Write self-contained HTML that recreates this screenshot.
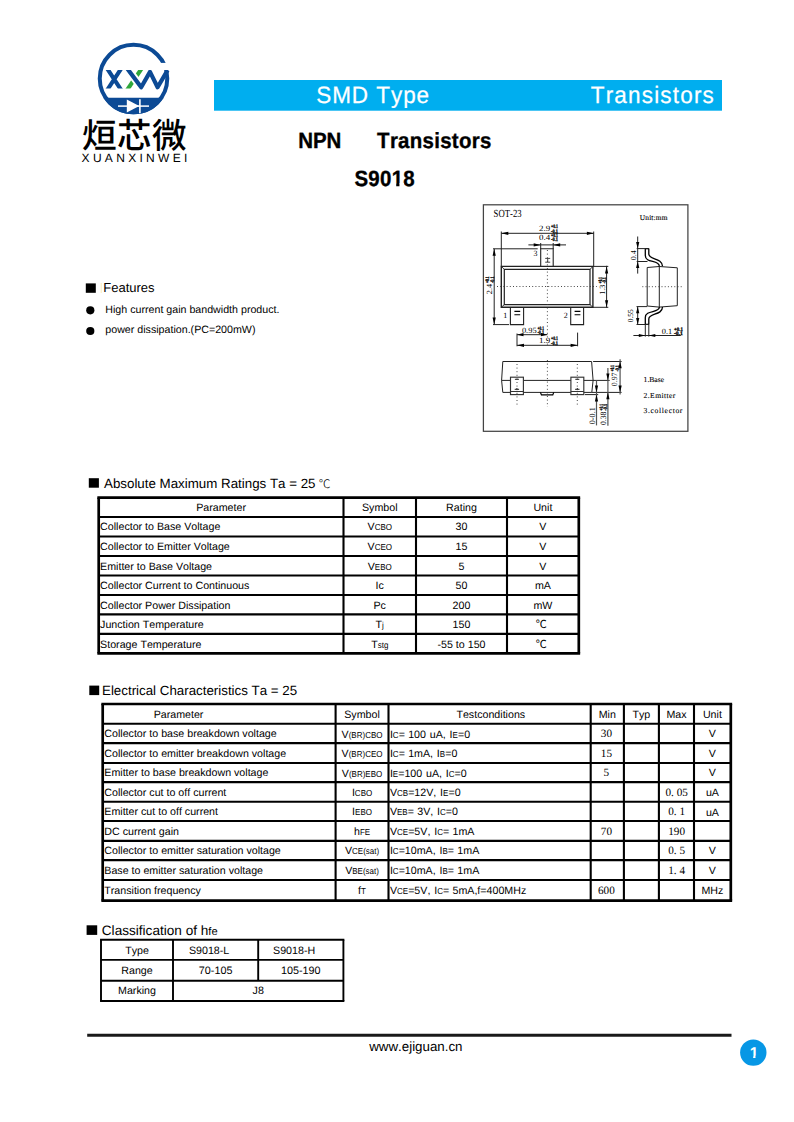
<!DOCTYPE html>
<html lang="en">
<head>
<meta charset="utf-8">
<title>S9018 NPN Transistors</title>
<style>
html,body{margin:0;padding:0;background:#fff;}
body{width:794px;height:1122px;overflow:hidden;font-family:'Liberation Sans', sans-serif;}
svg{display:block;position:absolute;left:0;top:0;font-family:'Liberation Sans', sans-serif;font-kerning:none;text-rendering:geometricPrecision;}
text{white-space:pre;}
</style>
</head>
<body>
<svg width="794" height="1122" viewBox="0 0 794 1122">
<g id="header">
<rect x="214" y="80" width="508" height="30.7" fill="#00aeef"/>
<text transform="translate(316.2 103) scale(0.95 1)" font-size="23.7" fill="#fff" stroke="#fff" stroke-width="0.25" letter-spacing="1.0">SMD Type</text>
<text transform="translate(590.7 103) scale(0.95 1)" font-size="23.7" fill="#fff" stroke="#fff" stroke-width="0.25" letter-spacing="1.25">Transistors</text>
</g>
<g id="logo">
<circle cx="133.5" cy="78.6" r="33.75" fill="none" stroke="#0c4a95" stroke-width="4"/>
<rect x="158" y="62.9" width="14" height="7.2" fill="#fff"/>
<path d="M103.28,97.7 L163.72,97.7 A35.75,35.75 0 0 1 103.28,97.7 Z" fill="#0c4a95"/>
<line x1="118" y1="106.1" x2="149" y2="106.1" stroke="#fff" stroke-width="1.5"/>
<path d="M126.8,99.6 L126.8,112.6 L139.3,106.1 Z" fill="#fff"/>
<line x1="139.9" y1="99.3" x2="139.9" y2="113.2" stroke="#fff" stroke-width="1.6"/>
<clipPath id="lc"><rect x="100" y="70.0" width="70" height="18.6"/></clipPath>
<clipPath id="lw"><rect x="100" y="69.9" width="70" height="20"/></clipPath>
<path clip-path="url(#lc)" d="M105.80,66.42 L122.60,92.18 M122.60,66.42 L105.80,92.18" fill="none" stroke="#0c4a95" stroke-width="4.1"/>
<path clip-path="url(#lc)" d="M143.10,66.42 L125.60,92.18" fill="none" stroke="#2fa73b" stroke-width="4.1"/>
<path clip-path="url(#lc)" d="M124.56,64.97 L141.2,87.2" fill="none" stroke="#fff" stroke-width="8.0"/>
<path clip-path="url(#lw)" d="M124.56,64.97 L141.2,87.2 L150.0,71.9 L157.6,87.2 L167.6,70.2" fill="none" stroke="#0c4a95" stroke-width="4.2" stroke-linejoin="round"/>
<text x="82" y="148.2" font-size="34.6" font-weight="500" font-family="'Liberation Sans', 'Noto Sans CJK SC', sans-serif" letter-spacing="0.4">烜芯微</text>
<text x="81.6" y="161.5" font-size="12" letter-spacing="3.3">XUANXINWEI</text>
</g>
<text transform="translate(298.3 148) scale(0.93 1)" font-size="22" font-weight="bold" letter-spacing="-0.1" stroke="#000" stroke-width="0.35">NPN</text>
<text transform="translate(377.1 148) scale(0.93 1)" font-size="22" font-weight="bold" letter-spacing="0.3" stroke="#000" stroke-width="0.35">Transistors</text>
<text transform="translate(354.4 185.8) scale(0.93 1)" font-size="22" font-weight="bold" letter-spacing="0.3" stroke="#000" stroke-width="0.35">S9018</text>
<rect x="391.93" y="183" width="4.28659" height="4.5" fill="#fff"/>
<rect x="399.424" y="183" width="4.42685" height="4.5" fill="#fff"/>
<rect x="85.8" y="283.4" width="10" height="9.4" fill="#000"/>
<line x1="101.2" y1="283" x2="101.2" y2="293" stroke="#fbe7a6" stroke-width="0.8"/>
<text x="103.3" y="292.2" font-size="13">Features</text>
<circle cx="90.3" cy="310.3" r="4.1"/>
<circle cx="90.3" cy="331" r="4.1"/>
<text x="105.3" y="313.4" font-size="10.667">High current gain bandwidth product.</text>
<text x="105.3" y="333.3" font-size="10.667">power dissipation.(PC=200mW)</text>
<rect x="88.8" y="478.2" width="10.1" height="9.5" fill="#000"/>
<text x="104" y="487.6" font-size="13.333">Absolute Maximum Ratings Ta = 25</text>
<text x="318.8" y="487.6" font-size="11.8" font-weight="300" font-family="'Liberation Sans', 'Noto Sans CJK SC', sans-serif">℃</text>
<rect x="89.3" y="685.6" width="9.9" height="9.5" fill="#000"/>
<text x="102" y="694.9" font-size="13.333">Electrical Characteristics Ta = 25</text>
<rect x="86.6" y="925.3" width="10.6" height="9.6" fill="#000"/>
<text x="101.8" y="934.7" font-size="13.6">Classification of h<tspan font-size="11.2">fe</tspan></text>
<g id="t1">
<line x1="97.35" y1="497.6" x2="580.15" y2="497.6" stroke="#000" stroke-width="2.7"/>
<line x1="98.7" y1="517.07" x2="578.8" y2="517.07" stroke="#000" stroke-width="2.1"/>
<line x1="98.7" y1="536.54" x2="578.8" y2="536.54" stroke="#000" stroke-width="2.1"/>
<line x1="98.7" y1="556.01" x2="578.8" y2="556.01" stroke="#000" stroke-width="2.1"/>
<line x1="98.7" y1="575.48" x2="578.8" y2="575.48" stroke="#000" stroke-width="2.1"/>
<line x1="98.7" y1="594.95" x2="578.8" y2="594.95" stroke="#000" stroke-width="2.1"/>
<line x1="98.7" y1="614.42" x2="578.8" y2="614.42" stroke="#000" stroke-width="2.1"/>
<line x1="98.7" y1="633.89" x2="578.8" y2="633.89" stroke="#000" stroke-width="2.1"/>
<line x1="97.35" y1="653.36" x2="580.15" y2="653.36" stroke="#000" stroke-width="2.7"/>
<line x1="98.7" y1="497.6" x2="98.7" y2="653.36" stroke="#000" stroke-width="2.7"/>
<line x1="343.5" y1="497.6" x2="343.5" y2="653.36" stroke="#000" stroke-width="2.1"/>
<line x1="416" y1="497.6" x2="416" y2="653.36" stroke="#000" stroke-width="2.1"/>
<line x1="507" y1="497.6" x2="507" y2="653.36" stroke="#000" stroke-width="2.1"/>
<line x1="578.8" y1="497.6" x2="578.8" y2="653.36" stroke="#000" stroke-width="2.7"/>
<text x="221.1" y="511" font-size="10.667" text-anchor="middle">Parameter</text>
<text x="379.75" y="511" font-size="10.667" text-anchor="middle">Symbol</text>
<text x="461.5" y="511" font-size="10.667" text-anchor="middle">Rating</text>
<text x="542.9" y="511" font-size="10.667" text-anchor="middle">Unit</text>
<text x="100.1" y="530" font-size="10.667">Collector to Base Voltage</text>
<g>
<text x="367.52" y="530" font-size="10.667">V</text>
<text transform="translate(374.64 530) scale(0.92 1)" font-size="8.7">CBO</text>
</g>
<text x="461.5" y="530" font-size="10.667" text-anchor="middle">30</text>
<text x="542.9" y="530" font-size="10.667" text-anchor="middle">V</text>
<text x="100.1" y="550" font-size="10.667">Collector to Emitter Voltage</text>
<g>
<text x="367.52" y="550" font-size="10.667">V</text>
<text transform="translate(374.64 550) scale(0.92 1)" font-size="8.7">CEO</text>
</g>
<text x="461.5" y="550" font-size="10.667" text-anchor="middle">15</text>
<text x="542.9" y="550" font-size="10.667" text-anchor="middle">V</text>
<text x="100.1" y="570" font-size="10.667">Emitter to Base Voltage</text>
<g>
<text x="367.74" y="570" font-size="10.667">V</text>
<text transform="translate(374.86 570) scale(0.92 1)" font-size="8.7">EBO</text>
</g>
<text x="461.5" y="570" font-size="10.667" text-anchor="middle">5</text>
<text x="542.9" y="570" font-size="10.667" text-anchor="middle">V</text>
<text x="100.1" y="589" font-size="10.667">Collector Current to Continuous</text>
<g>
<text x="375.60" y="589" font-size="10.667">Ic</text>
</g>
<text x="461.5" y="589" font-size="10.667" text-anchor="middle">50</text>
<text x="542.9" y="589" font-size="10.667" text-anchor="middle">mA</text>
<text x="100.1" y="609" font-size="10.667">Collector Power Dissipation</text>
<g>
<text x="373.53" y="609" font-size="10.667">Pc</text>
</g>
<text x="461.5" y="609" font-size="10.667" text-anchor="middle">200</text>
<text x="542.9" y="609" font-size="10.667" text-anchor="middle">mW</text>
<text x="100.1" y="628" font-size="10.667">Junction Temperature</text>
<g>
<text x="375.60" y="628" font-size="10.667">T</text>
<text transform="translate(382.12 628) scale(0.92 1)" font-size="8.7">j</text>
</g>
<text x="461.5" y="628" font-size="10.667" text-anchor="middle">150</text>
<text x="541.3" y="628" font-size="11" text-anchor="middle" font-family="'Liberation Sans', 'Noto Sans CJK SC', sans-serif">℃</text>
<text x="100.1" y="648" font-size="10.667">Storage Temperature</text>
<g>
<text x="371.15" y="648" font-size="10.667">T</text>
<text transform="translate(377.67 648) scale(0.92 1)" font-size="8.7">stg</text>
</g>
<text x="461.5" y="648" font-size="10.667" text-anchor="middle">-55 to 150</text>
<text x="541.3" y="648" font-size="11" text-anchor="middle" font-family="'Liberation Sans', 'Noto Sans CJK SC', sans-serif">℃</text>
</g>
<g id="t2">
<line x1="101.35" y1="704" x2="732.15" y2="704" stroke="#000" stroke-width="2.7"/>
<line x1="102.7" y1="723.7" x2="730.8" y2="723.7" stroke="#000" stroke-width="2.1"/>
<line x1="102.7" y1="743.1" x2="730.8" y2="743.1" stroke="#000" stroke-width="2.1"/>
<line x1="102.7" y1="763" x2="730.8" y2="763" stroke="#000" stroke-width="2.1"/>
<line x1="102.7" y1="782.1" x2="730.8" y2="782.1" stroke="#000" stroke-width="2.1"/>
<line x1="102.7" y1="801.7" x2="730.8" y2="801.7" stroke="#000" stroke-width="2.1"/>
<line x1="102.7" y1="821" x2="730.8" y2="821" stroke="#000" stroke-width="2.1"/>
<line x1="102.7" y1="840.9" x2="730.8" y2="840.9" stroke="#000" stroke-width="2.1"/>
<line x1="102.7" y1="860.1" x2="730.8" y2="860.1" stroke="#000" stroke-width="2.1"/>
<line x1="102.7" y1="880" x2="730.8" y2="880" stroke="#000" stroke-width="2.1"/>
<line x1="101.35" y1="900.6" x2="732.15" y2="900.6" stroke="#000" stroke-width="2.7"/>
<line x1="102.7" y1="704" x2="102.7" y2="900.6" stroke="#000" stroke-width="2.7"/>
<line x1="335.6" y1="704" x2="335.6" y2="900.6" stroke="#000" stroke-width="2.1"/>
<line x1="388.5" y1="704" x2="388.5" y2="900.6" stroke="#000" stroke-width="2.1"/>
<line x1="590.7" y1="704" x2="590.7" y2="900.6" stroke="#000" stroke-width="2.1"/>
<line x1="623.9" y1="704" x2="623.9" y2="900.6" stroke="#000" stroke-width="2.1"/>
<line x1="658.9" y1="704" x2="658.9" y2="900.6" stroke="#000" stroke-width="2.1"/>
<line x1="694" y1="704" x2="694" y2="900.6" stroke="#000" stroke-width="2.1"/>
<line x1="730.8" y1="704" x2="730.8" y2="900.6" stroke="#000" stroke-width="2.7"/>
<text x="178.5" y="718" font-size="10.667" text-anchor="middle">Parameter</text>
<text x="362.05" y="718" font-size="10.667" text-anchor="middle">Symbol</text>
<text x="490.8" y="718" font-size="10.667" text-anchor="middle">Testconditions</text>
<text x="607.3" y="718" font-size="10.667" text-anchor="middle">Min</text>
<text x="641.4" y="718" font-size="10.667" text-anchor="middle">Typ</text>
<text x="676.45" y="718" font-size="10.667" text-anchor="middle">Max</text>
<text x="712.4" y="718" font-size="10.667" text-anchor="middle">Unit</text>
<text x="104.3" y="737" font-size="10.667">Collector to base breakdown voltage</text>
<g>
<text x="341.60" y="738" font-size="10.667">V</text>
<text transform="translate(348.71 738) scale(0.92 1)" font-size="8.7">(BR)CBO</text>
</g>
<g>
<text x="389.90" y="738" font-size="10.667" word-spacing="0.85">I</text>
<text transform="translate(392.86 738) scale(0.92 1)" font-size="8.7">C</text>
<text x="398.64" y="738" font-size="10.667" word-spacing="0.85">= </text>
<text x="408.19" y="738" font-size="10.667" word-spacing="0.85">100 uA, I</text>
<text transform="translate(452.59 738) scale(0.92 1)" font-size="8.7">E</text>
<text x="457.92" y="738" font-size="10.667" word-spacing="0.85">=0</text>
</g>
<text x="606.4" y="737" font-size="11.2" text-anchor="middle" font-family="'Liberation Serif', 'Noto Serif CJK SC', serif">30</text>
<text x="712.4" y="737" font-size="10.667" text-anchor="middle">V</text>
<text x="104.3" y="757" font-size="10.667">Collector to emitter breakdown voltage</text>
<g>
<text x="341.60" y="757" font-size="10.667">V</text>
<text transform="translate(348.71 757) scale(0.92 1)" font-size="8.7">(BR)CEO</text>
</g>
<g>
<text x="389.90" y="757" font-size="10.667" word-spacing="0.85">I</text>
<text transform="translate(392.86 757) scale(0.92 1)" font-size="8.7">C</text>
<text x="398.64" y="757" font-size="10.667" word-spacing="0.85">= </text>
<text x="408.19" y="757" font-size="10.667" word-spacing="0.85">1mA, I</text>
<text transform="translate(439.86 757) scale(0.92 1)" font-size="8.7">B</text>
<text x="445.20" y="757" font-size="10.667" word-spacing="0.85">=0</text>
</g>
<text x="606.4" y="757" font-size="11.2" text-anchor="middle" font-family="'Liberation Serif', 'Noto Serif CJK SC', serif">15</text>
<text x="712.4" y="757" font-size="10.667" text-anchor="middle">V</text>
<text x="104.3" y="776" font-size="10.667">Emitter to base breakdown voltage</text>
<g>
<text x="341.82" y="777" font-size="10.667">V</text>
<text transform="translate(348.93 777) scale(0.92 1)" font-size="8.7">(BR)EBO</text>
</g>
<g>
<text x="389.90" y="777" font-size="10.667" word-spacing="0.85">I</text>
<text transform="translate(392.86 777) scale(0.92 1)" font-size="8.7">E</text>
<text x="398.20" y="777" font-size="10.667" word-spacing="0.85">=100 uA, I</text>
<text transform="translate(448.83 777) scale(0.92 1)" font-size="8.7">C</text>
<text x="454.61" y="777" font-size="10.667" word-spacing="0.85">=0</text>
</g>
<text x="606.4" y="776" font-size="11.2" text-anchor="middle" font-family="'Liberation Serif', 'Noto Serif CJK SC', serif">5</text>
<text x="712.4" y="776" font-size="10.667" text-anchor="middle">V</text>
<text x="104.3" y="796" font-size="10.667">Collector cut to off current</text>
<g>
<text x="351.90" y="796" font-size="10.667">I</text>
<text transform="translate(354.86 796) scale(0.92 1)" font-size="8.7">CBO</text>
</g>
<g>
<text x="389.90" y="796" font-size="10.667" word-spacing="0.85">V</text>
<text transform="translate(397.01 796) scale(0.92 1)" font-size="8.7">CB</text>
<text x="408.13" y="796" font-size="10.667" word-spacing="0.85">=12V, I</text>
<text transform="translate(443.08 796) scale(0.92 1)" font-size="8.7">E</text>
<text x="448.42" y="796" font-size="10.667" word-spacing="0.85">=0</text>
</g>
<text x="676.65" y="796" font-size="11.2" text-anchor="middle" font-family="'Liberation Serif', 'Noto Serif CJK SC', serif">0. 05</text>
<text x="712.4" y="796" font-size="10.667" text-anchor="middle">uA</text>
<text x="104.3" y="815" font-size="10.667">Emitter cut to off current</text>
<g>
<text x="352.12" y="815" font-size="10.667">I</text>
<text transform="translate(355.08 815) scale(0.92 1)" font-size="8.7">EBO</text>
</g>
<g>
<text x="389.90" y="815" font-size="10.667" word-spacing="0.85">V</text>
<text transform="translate(397.01 815) scale(0.92 1)" font-size="8.7">EB</text>
<text x="407.69" y="815" font-size="10.667" word-spacing="0.85">= </text>
<text x="417.24" y="815" font-size="10.667" word-spacing="0.85">3V, I</text>
<text transform="translate(440.02 815) scale(0.92 1)" font-size="8.7">C</text>
<text x="445.80" y="815" font-size="10.667" word-spacing="0.85">=0</text>
</g>
<text x="676.65" y="815" font-size="11.2" text-anchor="middle" font-family="'Liberation Serif', 'Noto Serif CJK SC', serif">0. 1</text>
<text x="712.4" y="816" font-size="10.667" text-anchor="middle">uA</text>
<text x="104.3" y="835" font-size="10.667">DC current gain</text>
<g>
<text x="353.97" y="835" font-size="10.667">h</text>
<text transform="translate(359.90 835) scale(0.92 1)" font-size="8.7">FE</text>
</g>
<g>
<text x="389.90" y="835" font-size="10.667" word-spacing="0.85">V</text>
<text transform="translate(397.01 835) scale(0.92 1)" font-size="8.7">CE</text>
<text x="408.13" y="835" font-size="10.667" word-spacing="0.85">=5V, I</text>
<text transform="translate(437.15 835) scale(0.92 1)" font-size="8.7">C</text>
<text x="442.93" y="835" font-size="10.667" word-spacing="0.85">= </text>
<text x="452.47" y="835" font-size="10.667" word-spacing="0.85">1mA</text>
</g>
<text x="606.4" y="835" font-size="11.2" text-anchor="middle" font-family="'Liberation Serif', 'Noto Serif CJK SC', serif">70</text>
<text x="676.65" y="835" font-size="11.2" text-anchor="middle" font-family="'Liberation Serif', 'Noto Serif CJK SC', serif">190</text>
<text x="104.3" y="854" font-size="10.667">Collector to emitter saturation voltage</text>
<g>
<text x="344.93" y="854" font-size="10.667">V</text>
<text transform="translate(352.04 854) scale(0.92 1)" font-size="8.7">CE(sat)</text>
</g>
<g>
<text x="389.90" y="854" font-size="10.667" word-spacing="0.85">I</text>
<text transform="translate(392.86 854) scale(0.92 1)" font-size="8.7">C</text>
<text x="398.64" y="854" font-size="10.667" word-spacing="0.85">=10mA, I</text>
<text transform="translate(442.48 854) scale(0.92 1)" font-size="8.7">B</text>
<text x="447.82" y="854" font-size="10.667" word-spacing="0.85">= </text>
<text x="457.36" y="854" font-size="10.667" word-spacing="0.85">1mA</text>
</g>
<text x="676.65" y="854" font-size="11.2" text-anchor="middle" font-family="'Liberation Serif', 'Noto Serif CJK SC', serif">0. 5</text>
<text x="712.4" y="854" font-size="10.667" text-anchor="middle">V</text>
<text x="104.3" y="874" font-size="10.667">Base to emitter saturation voltage</text>
<g>
<text x="345.15" y="874" font-size="10.667">V</text>
<text transform="translate(352.26 874) scale(0.92 1)" font-size="8.7">BE(sat)</text>
</g>
<g>
<text x="389.90" y="874" font-size="10.667" word-spacing="0.85">I</text>
<text transform="translate(392.86 874) scale(0.92 1)" font-size="8.7">C</text>
<text x="398.64" y="874" font-size="10.667" word-spacing="0.85">=10mA, I</text>
<text transform="translate(442.48 874) scale(0.92 1)" font-size="8.7">B</text>
<text x="447.82" y="874" font-size="10.667" word-spacing="0.85">= </text>
<text x="457.36" y="874" font-size="10.667" word-spacing="0.85">1mA</text>
</g>
<text x="676.65" y="874" font-size="11.2" text-anchor="middle" font-family="'Liberation Serif', 'Noto Serif CJK SC', serif">1. 4</text>
<text x="712.4" y="874" font-size="10.667" text-anchor="middle">V</text>
<text x="104.3" y="894" font-size="10.667">Transition frequency</text>
<g>
<text x="358.12" y="894" font-size="10.667">f</text>
<text transform="translate(361.09 894) scale(0.92 1)" font-size="8.7">T</text>
</g>
<g>
<text x="389.90" y="894" font-size="10.667" word-spacing="0.85">V</text>
<text transform="translate(397.01 894) scale(0.92 1)" font-size="8.7">CE</text>
<text x="408.13" y="894" font-size="10.667" word-spacing="0.85">=5V, I</text>
<text transform="translate(437.15 894) scale(0.92 1)" font-size="8.7">C</text>
<text x="442.93" y="894" font-size="10.667" word-spacing="0.85">= </text>
<text x="452.47" y="894" font-size="10.667" word-spacing="0.85">5mA,f=400MHz</text>
</g>
<text x="606.4" y="894" font-size="11.2" text-anchor="middle" font-family="'Liberation Serif', 'Noto Serif CJK SC', serif">600</text>
<text x="712.4" y="894" font-size="10.667" text-anchor="middle">MHz</text>
</g>
<g id="t3">
<line x1="100.05" y1="939.8" x2="344.35" y2="939.8" stroke="#000" stroke-width="1.9"/>
<line x1="101" y1="959.9" x2="343.4" y2="959.9" stroke="#000" stroke-width="1.9"/>
<line x1="101" y1="980.8" x2="343.4" y2="980.8" stroke="#000" stroke-width="1.9"/>
<line x1="100.05" y1="1001" x2="344.35" y2="1001" stroke="#000" stroke-width="1.9"/>
<line x1="101" y1="939.8" x2="101" y2="1001" stroke="#000" stroke-width="1.9"/>
<line x1="173" y1="939.8" x2="173" y2="1001" stroke="#000" stroke-width="1.9"/>
<line x1="258.2" y1="939.8" x2="258.2" y2="980.8" stroke="#000" stroke-width="1.9"/>
<line x1="343.4" y1="939.8" x2="343.4" y2="1001" stroke="#000" stroke-width="1.9"/>
<text x="137" y="954" font-size="10.667" text-anchor="middle">Type</text>
<text x="209.1" y="954" font-size="10.667" text-anchor="middle">S9018-L</text>
<text x="294.1" y="954" font-size="10.667" text-anchor="middle">S9018-H</text>
<text x="137" y="973.6" font-size="10.667" text-anchor="middle">Range</text>
<text x="215.6" y="973.6" font-size="10.8" text-anchor="middle">70-105</text>
<text x="300.8" y="973.6" font-size="10.8" text-anchor="middle">105-190</text>
<text x="137" y="994.3" font-size="10.667" text-anchor="middle">Marking</text>
<text x="258.2" y="994.3" font-size="10.667" text-anchor="middle">J8</text>
</g>
<line x1="87.2" y1="1035.3" x2="731.5" y2="1035.3" stroke="#1a1a1a" stroke-width="3"/>
<text x="369.2" y="1050.8" font-size="13.333">www.ejiguan.cn</text>
<circle cx="753.3" cy="1052.6" r="13.2" fill="#0797e5"/>
<text x="749.656" y="1057.9" font-size="15.5" font-weight="bold" fill="#fff">1</text>
<rect x="749.432" y="1055.72" width="3.74136" height="2.98179" fill="#0797e5"/>
<rect x="755.5" y="1055.72" width="4.24458" height="2.98179" fill="#0797e5"/>
<g id="diagram" fill="none" stroke="#222" stroke-width="1">
<rect x="483.4" y="204.8" width="204.5" height="226.5" stroke="#444" stroke-width="1.25"/>
<path d="M501.3,266.4 H592.9 V307.3 H501.3 Z" stroke-width="1.4"/>
<path d="M504.3,269.4 H590.0 V304.6 H504.3 Z" stroke-width="1.2"/>
<path d="M501.3,266.4 L504.3,269.4 M592.9,266.4 L590.0,269.4 M592.9,307.3 L590.0,304.6 M501.3,307.3 L504.3,304.6" stroke-width="0.9"/>
<path d="M540.7,266.4 V248.8 H553.2 V266.4" stroke-width="1.1"/>
<path d="M510.4,307.3 V324.6 H523.6 V307.3" stroke-width="1.1"/>
<path d="M570.7,307.3 V324.6 H583.6 V307.3" stroke-width="1.1"/>
<path d="M497,286.5 H597" stroke-width="0.9" stroke-dasharray="1 2.2 1 2.2" stroke="#333"/>
<path d="M547.4,250 V346" stroke-width="0.9" stroke-dasharray="1 2.6" stroke="#333"/>
<path d="M514.4,311.4 H520.2 M514.4,314.7 H520.2" stroke-width="1.1" stroke="#000"/>
<path d="M574.6,311.4 H580.4 M574.6,314.7 H580.4" stroke-width="1.1" stroke="#000"/>
<path d="M545.2,258.4 H550.2 M545.2,262.2 H550.2 M547.7,258.4 V262.2" stroke-width="0.9" stroke="#333"/>
<path d="M501.3,231.5 V266.4 M593.7,231.5 V266.4" stroke-width="1" stroke="#222"/>
<path d="M501.3,233.3 H593.7" stroke-width="1"/>
<polygon points="501.3,233.3 508.3,231.7 508.3,234.9" fill="#000" stroke="none"/>
<polygon points="593.9,233.3 586.9,231.7 586.9,234.9" fill="#000" stroke="none"/>
<path d="M528.4,244.9 H566" stroke-width="1"/>
<polygon points="540.7,244.9 533.7,243.3 533.7,246.5" fill="#000" stroke="none"/>
<polygon points="553.2,244.9 560.2,243.3 560.2,246.5" fill="#000" stroke="none"/>
<path d="M540.7,243 V249 M553.2,243 V249" stroke-width="1"/>
<path d="M494.2,248.8 V324.6" stroke-width="1"/>
<polygon points="494.2,248.8 492.6,255.8 495.8,255.8" fill="#000" stroke="none"/>
<polygon points="494.2,324.6 492.6,317.6 495.8,317.6" fill="#000" stroke="none"/>
<path d="M493,248.8 H537.7 M493,324.6 H509" stroke-width="1"/>
<path d="M606.6,265.8 V307.8" stroke-width="1"/>
<polygon points="606.6,266.4 605,273.4 608.2,273.4" fill="#000" stroke="none"/>
<polygon points="606.6,307.3 605,300.3 608.2,300.3" fill="#000" stroke="none"/>
<path d="M592.9,266.4 H608.3 M592.9,307.3 H608.3" stroke-width="1"/>
<path d="M517,334.7 H547.4" stroke-width="1"/>
<polygon points="517,334.7 523.5,333.1 523.5,336.3" fill="#000" stroke="none"/>
<polygon points="547.4,334.7 540.9,333.1 540.9,336.3" fill="#000" stroke="none"/>
<path d="M517,333.5 V346.3 M577.6,332.6 V346.3" stroke-width="1"/>
<path d="M517,345.3 H577.6" stroke-width="1"/>
<polygon points="517,345.3 524,343.7 524,346.9" fill="#000" stroke="none"/>
<polygon points="577.6,345.3 570.6,343.7 570.6,346.9" fill="#000" stroke="none"/>
<path d="M502.8,361.5 H591.6 L593.1,380.4 L591.8,392.4 H502.8 L501.6,380.4 Z" stroke-width="1"/>
<path d="M501.6,380.4 H609.7" stroke-width="1"/>
<rect x="510.5" y="377.2" width="12.9" height="17.4" fill="#fff" stroke="#333" stroke-width="1.15"/>
<path d="M510.5,391.5 h12.9" stroke-width="1" stroke="#333"/>
<path d="M514.9,379.3 h4 M514.7,389.3 h4.4 M516.9,388 v1.3" stroke-width="1"/>
<rect x="570.9" y="377.2" width="12.9" height="17.4" fill="#fff" stroke="#333" stroke-width="1.15"/>
<path d="M570.9,391.5 h12.9" stroke-width="1" stroke="#333"/>
<path d="M575.3,379.3 h4 M575.1,389.3 h4.4 M577.3,388 v1.3" stroke-width="1"/>
<path d="M540.4,392.4 L541.4,394.8 H552.8 L553.8,392.4" stroke-width="1.15" stroke="#000"/>
<path d="M517,364 V405 M577.3,364 V405" stroke-width="0.9" stroke-dasharray="1 2.6" stroke="#333"/>
<path d="M547.4,360 V407" stroke-width="0.9" stroke-dasharray="1 2.6" stroke="#333"/>
<path d="M593.1,361.5 H621.6 M591.8,392.4 H621.6" stroke-width="1"/>
<path d="M620.1,359.3 V394.5" stroke-width="1.2" stroke="#555"/>
<polygon points="620.1,361.3 618.5,368.3 621.7,368.3" fill="#000" stroke="none"/>
<polygon points="620.1,392.6 618.5,385.6 621.7,385.6" fill="#000" stroke="none"/>
<path d="M607.9,368.1 V425.8" stroke-width="1.2" stroke="#555"/>
<polygon points="607.9,380.6 606.3,373.6 609.5,373.6" fill="#000" stroke="none"/>
<polygon points="607.9,392.2 606.3,399.2 609.5,399.2" fill="#000" stroke="none"/>
<path d="M585,394.6 H598.2" stroke-width="1"/>
<path d="M596.5,380.4 V425.4" stroke-width="1.2" stroke="#555"/>
<polygon points="596.5,392.4 594.9,385.4 598.1,385.4" fill="#000" stroke="none"/>
<polygon points="596.5,394.4 594.9,401.4 598.1,401.4" fill="#000" stroke="none"/>
<path d="M647.2,267.5 L659.3,266.5 L677.3,267.8 V305.7 L659.3,307.1 L647.2,306 Z" stroke-width="1"/>
<path d="M659.3,266.5 V307.1" stroke-width="1"/>
<path d="M645.3,248.6 H648.8 M645.3,248.6 V255.5 C645.3,263.5 659.2,259.5 659.4,266.5 M648.8,248.6 V254 C648.8,260 662.3,257.5 662.5,266.3" stroke-width="1.3" stroke="#000"/>
<path d="M645.3,324.4 H648.8 M645.3,324.4 V317.5 C645.3,309.5 659.2,313.5 659.4,307.1 M648.8,324.4 V319 C648.8,313 662.3,315.5 662.5,307" stroke-width="1.3" stroke="#000"/>
<path d="M642.3,286.7 H682" stroke-width="0.9" stroke-dasharray="1 2.2 1 2.2" stroke="#333"/>
<path d="M637.7,236.5 V273.6" stroke-width="1"/>
<polygon points="637.7,248.6 636.1,242.1 639.3,242.1" fill="#000" stroke="none"/>
<polygon points="637.7,261.5 636.1,268 639.3,268" fill="#000" stroke="none"/>
<path d="M636.7,248.6 H648.8 M636.7,261.5 H647.5" stroke-width="1"/>
<path d="M637.7,306.8 V324.6" stroke-width="1"/>
<polygon points="637.7,306.8 636.1,313.3 639.3,313.3" fill="#000" stroke="none"/>
<polygon points="637.7,324.6 636.1,318.1 639.3,318.1" fill="#000" stroke="none"/>
<path d="M636.5,306.6 H647.2 M636.5,324.5 H648" stroke-width="1"/>
<path d="M645.3,324.4 V336.6 M648.8,324.4 V336.6" stroke-width="1"/>
<path d="M633.4,335.5 H680.8" stroke-width="1"/>
<polygon points="645.3,335.5 638.8,333.9 638.8,337.1" fill="#000" stroke="none"/>
<polygon points="648.8,335.5 655.3,333.9 655.3,337.1" fill="#000" stroke="none"/>
</g>
<g id="diagram-text">
<text x="493.6" y="217.2" font-size="10.8" font-family="'Liberation Serif', 'Noto Serif CJK SC', serif" fill="#000" stroke="none" textLength="28" lengthAdjust="spacingAndGlyphs">SOT-23</text>
<text x="639.8" y="220.3" font-size="7.4" font-family="'Liberation Serif', 'Noto Serif CJK SC', serif" textLength="27.6" lengthAdjust="spacing" stroke="#000" stroke-width="0.1">Unit:mm</text>
<text x="539" y="231.3" font-size="8" font-family="'Liberation Serif', 'Noto Serif CJK SC', serif" fill="#000" stroke="none" textLength="11.1" lengthAdjust="spacingAndGlyphs">2.9</text>
<text x="551" y="228.3" font-size="5.4" font-family="'Liberation Serif', 'Noto Serif CJK SC', serif" fill="#000" stroke="#000" stroke-width="0.3" font-weight="bold" textLength="7" lengthAdjust="spacingAndGlyphs">+0.1</text>
<text x="551" y="232.5" font-size="5.4" font-family="'Liberation Serif', 'Noto Serif CJK SC', serif" fill="#000" stroke="#000" stroke-width="0.3" font-weight="bold" textLength="7" lengthAdjust="spacingAndGlyphs">-0.1</text>
<text x="539" y="240.2" font-size="8" font-family="'Liberation Serif', 'Noto Serif CJK SC', serif" fill="#000" stroke="none" textLength="11.1" lengthAdjust="spacingAndGlyphs">0.4</text>
<text x="551" y="237.2" font-size="5.4" font-family="'Liberation Serif', 'Noto Serif CJK SC', serif" fill="#000" stroke="#000" stroke-width="0.3" font-weight="bold" textLength="7" lengthAdjust="spacingAndGlyphs">+0.1</text>
<text x="551" y="241.4" font-size="5.4" font-family="'Liberation Serif', 'Noto Serif CJK SC', serif" fill="#000" stroke="#000" stroke-width="0.3" font-weight="bold" textLength="7" lengthAdjust="spacingAndGlyphs">-0.1</text>
<text x="492.4" y="294.2" font-size="8" font-family="'Liberation Serif', 'Noto Serif CJK SC', serif" fill="#000" stroke="none" textLength="10.3" lengthAdjust="spacingAndGlyphs" transform="rotate(-90 492.4 294.2)">2.4</text>
<text x="503.6" y="291.2" font-size="5.4" font-family="'Liberation Serif', 'Noto Serif CJK SC', serif" fill="#000" stroke="#000" stroke-width="0.3" font-weight="bold" textLength="6.5" lengthAdjust="spacingAndGlyphs" transform="rotate(-90 492.4 294.2)">+0.1</text>
<text x="503.6" y="295.4" font-size="5.4" font-family="'Liberation Serif', 'Noto Serif CJK SC', serif" fill="#000" stroke="#000" stroke-width="0.3" font-weight="bold" textLength="6.5" lengthAdjust="spacingAndGlyphs" transform="rotate(-90 492.4 294.2)">-0.1</text>
<text x="604.6" y="294.8" font-size="8" font-family="'Liberation Serif', 'Noto Serif CJK SC', serif" fill="#000" stroke="none" textLength="10.3" lengthAdjust="spacingAndGlyphs" transform="rotate(-90 604.6 294.8)">1.3</text>
<text x="615.8" y="291.8" font-size="5.4" font-family="'Liberation Serif', 'Noto Serif CJK SC', serif" fill="#000" stroke="#000" stroke-width="0.3" font-weight="bold" textLength="6.5" lengthAdjust="spacingAndGlyphs" transform="rotate(-90 604.6 294.8)">+0.1</text>
<text x="615.8" y="296" font-size="5.4" font-family="'Liberation Serif', 'Noto Serif CJK SC', serif" fill="#000" stroke="#000" stroke-width="0.3" font-weight="bold" textLength="6.5" lengthAdjust="spacingAndGlyphs" transform="rotate(-90 604.6 294.8)">-0.1</text>
<text x="533.5" y="255.8" font-size="8" font-family="'Liberation Serif', 'Noto Serif CJK SC', serif" fill="#000" stroke="none">3</text>
<text x="503.3" y="317.9" font-size="8" font-family="'Liberation Serif', 'Noto Serif CJK SC', serif" fill="#000" stroke="none">1</text>
<text x="563.8" y="317.9" font-size="8" font-family="'Liberation Serif', 'Noto Serif CJK SC', serif" fill="#000" stroke="none">2</text>
<text x="521.9" y="333.1" font-size="8" font-family="'Liberation Serif', 'Noto Serif CJK SC', serif" fill="#000" stroke="none" textLength="14.7" lengthAdjust="spacingAndGlyphs">0.95</text>
<text x="537.5" y="330.1" font-size="5.4" font-family="'Liberation Serif', 'Noto Serif CJK SC', serif" fill="#000" stroke="#000" stroke-width="0.3" font-weight="bold" textLength="6.5" lengthAdjust="spacingAndGlyphs">+0.1</text>
<text x="537.5" y="334.3" font-size="5.4" font-family="'Liberation Serif', 'Noto Serif CJK SC', serif" fill="#000" stroke="#000" stroke-width="0.3" font-weight="bold" textLength="6.5" lengthAdjust="spacingAndGlyphs">-0.1</text>
<text x="539" y="343.3" font-size="8" font-family="'Liberation Serif', 'Noto Serif CJK SC', serif" fill="#000" stroke="none" textLength="11.1" lengthAdjust="spacingAndGlyphs">1.9</text>
<text x="551" y="340.3" font-size="5.4" font-family="'Liberation Serif', 'Noto Serif CJK SC', serif" fill="#000" stroke="#000" stroke-width="0.3" font-weight="bold" textLength="7" lengthAdjust="spacingAndGlyphs">+0.1</text>
<text x="551" y="344.5" font-size="5.4" font-family="'Liberation Serif', 'Noto Serif CJK SC', serif" fill="#000" stroke="#000" stroke-width="0.3" font-weight="bold" textLength="7" lengthAdjust="spacingAndGlyphs">-0.1</text>
<text x="636.2" y="260.2" font-size="7.6" font-family="'Liberation Serif', 'Noto Serif CJK SC', serif" fill="#000" stroke="none" textLength="10" lengthAdjust="spacingAndGlyphs" transform="rotate(-90 636.2 260.2)">0.4</text>
<text x="633.4" y="322.2" font-size="7.6" font-family="'Liberation Serif', 'Noto Serif CJK SC', serif" fill="#000" stroke="none" textLength="13" lengthAdjust="spacingAndGlyphs" transform="rotate(-90 633.4 322.2)">0.55</text>
<text x="661.8" y="333.6" font-size="8" font-family="'Liberation Serif', 'Noto Serif CJK SC', serif" fill="#000" stroke="none" textLength="10.4" lengthAdjust="spacingAndGlyphs">0.1</text>
<text x="673.9" y="330.6" font-size="5.4" font-family="'Liberation Serif', 'Noto Serif CJK SC', serif" fill="#000" stroke="#000" stroke-width="0.3" font-weight="bold" textLength="9" lengthAdjust="spacingAndGlyphs">+0.1</text>
<text x="673.9" y="334.8" font-size="5.4" font-family="'Liberation Serif', 'Noto Serif CJK SC', serif" fill="#000" stroke="#000" stroke-width="0.3" font-weight="bold" textLength="9" lengthAdjust="spacingAndGlyphs">-0.1</text>
<text x="617.4" y="386.2" font-size="8" font-family="'Liberation Serif', 'Noto Serif CJK SC', serif" fill="#000" stroke="none" textLength="13.7" lengthAdjust="spacingAndGlyphs" transform="rotate(-90 617.4 386.2)">0.97</text>
<text x="632" y="383.2" font-size="5.4" font-family="'Liberation Serif', 'Noto Serif CJK SC', serif" fill="#000" stroke="#000" stroke-width="0.3" font-weight="bold" textLength="6.5" lengthAdjust="spacingAndGlyphs" transform="rotate(-90 617.4 386.2)">+0.1</text>
<text x="632" y="387.4" font-size="5.4" font-family="'Liberation Serif', 'Noto Serif CJK SC', serif" fill="#000" stroke="#000" stroke-width="0.3" font-weight="bold" textLength="6.5" lengthAdjust="spacingAndGlyphs" transform="rotate(-90 617.4 386.2)">-0.1</text>
<text x="595.3" y="424.2" font-size="8.3" font-family="'Liberation Serif', 'Noto Serif CJK SC', serif" fill="#000" stroke="none" textLength="17" lengthAdjust="spacingAndGlyphs" transform="rotate(-90 595.3 424.2)">0-0.1</text>
<text x="605.6" y="425" font-size="8.2" font-family="'Liberation Serif', 'Noto Serif CJK SC', serif" fill="#000" stroke="none" textLength="13.4" lengthAdjust="spacingAndGlyphs" transform="rotate(-90 605.6 425)">0.38</text>
<text x="619.9" y="422" font-size="5.4" font-family="'Liberation Serif', 'Noto Serif CJK SC', serif" fill="#000" stroke="#000" stroke-width="0.3" font-weight="bold" textLength="6.8" lengthAdjust="spacingAndGlyphs" transform="rotate(-90 605.6 425)">+0.1</text>
<text x="619.9" y="426.2" font-size="5.4" font-family="'Liberation Serif', 'Noto Serif CJK SC', serif" fill="#000" stroke="#000" stroke-width="0.3" font-weight="bold" textLength="6.8" lengthAdjust="spacingAndGlyphs" transform="rotate(-90 605.6 425)">-0.1</text>
<text x="643.6" y="382.2" font-size="7.6" font-family="'Liberation Serif', 'Noto Serif CJK SC', serif" textLength="20.4" lengthAdjust="spacing" stroke="#000" stroke-width="0.1">1.Base</text>
<text x="643.6" y="398" font-size="7.6" font-family="'Liberation Serif', 'Noto Serif CJK SC', serif" textLength="31.7" lengthAdjust="spacing" stroke="#000" stroke-width="0.1">2.Emitter</text>
<text x="643.6" y="413.1" font-size="7.6" font-family="'Liberation Serif', 'Noto Serif CJK SC', serif" textLength="38.8" lengthAdjust="spacing" stroke="#000" stroke-width="0.1">3.collector</text>
</g>
</svg>
</body>
</html>
